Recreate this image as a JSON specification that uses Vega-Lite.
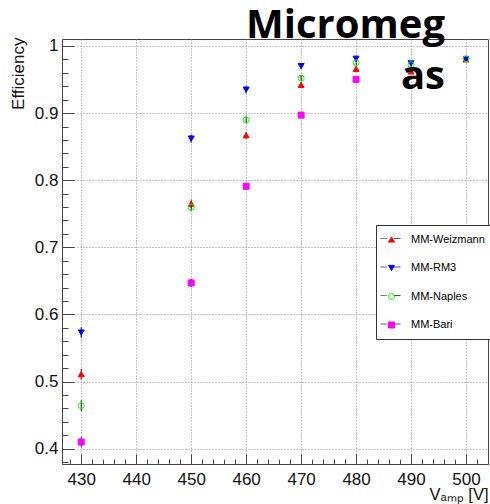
{
  "$schema": "https://vega.github.io/schema/vega-lite/v6.json",
  "width": 426,
  "height": 425,
  "autosize": "none",
  "padding": {"left": 62, "top": 39, "right": 2, "bottom": 40},
  "background": "white",
  "title": {
    "text": ["Micromeg", "as"],
    "anchor": "end",
    "orient": "top",
    "frame": "group",
    "font": "Open Sans",
    "fontSize": 40,
    "fontWeight": "bold",
    "color": "black",
    "lineHeight": 51,
    "baseline": "top",
    "offset": -60,
    "dx": -43
  },
  "config": {
    "view": {"stroke": "#444", "strokeWidth": 1},
    "axis": {
      "labelFont": "Liberation Sans",
      "titleFont": "Liberation Sans",
      "labelColor": "#111",
      "titleColor": "#111",
      "domainColor": "#444",
      "tickColor": "#444",
      "titleFontWeight": "normal"
    }
  },
  "datasets": {
    "pts": [
      {"v": 430, "eff": 0.511, "lo": 0.503, "hi": 0.519, "det": "MM-Weizmann"},
      {"v": 450, "eff": 0.765, "lo": 0.759, "hi": 0.771, "det": "MM-Weizmann"},
      {"v": 460, "eff": 0.867, "lo": 0.862, "hi": 0.872, "det": "MM-Weizmann"},
      {"v": 470, "eff": 0.942, "lo": 0.938, "hi": 0.946, "det": "MM-Weizmann"},
      {"v": 480, "eff": 0.966, "lo": 0.963, "hi": 0.969, "det": "MM-Weizmann"},
      {"v": 490, "eff": 0.962, "lo": 0.959, "hi": 0.965, "det": "MM-Weizmann"},
      {"v": 500, "eff": 0.980, "lo": 0.977, "hi": 0.983, "det": "MM-Weizmann"},
      {"v": 430, "eff": 0.573, "lo": 0.565, "hi": 0.581, "det": "MM-RM3"},
      {"v": 450, "eff": 0.862, "lo": 0.856, "hi": 0.868, "det": "MM-RM3"},
      {"v": 460, "eff": 0.935, "lo": 0.930, "hi": 0.940, "det": "MM-RM3"},
      {"v": 470, "eff": 0.970, "lo": 0.966, "hi": 0.974, "det": "MM-RM3"},
      {"v": 480, "eff": 0.981, "lo": 0.978, "hi": 0.984, "det": "MM-RM3"},
      {"v": 490, "eff": 0.974, "lo": 0.971, "hi": 0.977, "det": "MM-RM3"},
      {"v": 500, "eff": 0.980, "lo": 0.977, "hi": 0.983, "det": "MM-RM3"},
      {"v": 430, "eff": 0.464, "lo": 0.456, "hi": 0.472, "det": "MM-Naples"},
      {"v": 450, "eff": 0.760, "lo": 0.754, "hi": 0.766, "det": "MM-Naples"},
      {"v": 460, "eff": 0.890, "lo": 0.885, "hi": 0.895, "det": "MM-Naples"},
      {"v": 470, "eff": 0.952, "lo": 0.948, "hi": 0.956, "det": "MM-Naples"},
      {"v": 480, "eff": 0.975, "lo": 0.972, "hi": 0.978, "det": "MM-Naples"},
      {"v": 490, "eff": 0.972, "lo": 0.969, "hi": 0.975, "det": "MM-Naples"},
      {"v": 500, "eff": 0.981, "lo": 0.978, "hi": 0.984, "det": "MM-Naples"},
      {"v": 430, "eff": 0.410, "lo": 0.402, "hi": 0.418, "det": "MM-Bari"},
      {"v": 450, "eff": 0.647, "lo": 0.641, "hi": 0.653, "det": "MM-Bari"},
      {"v": 460, "eff": 0.791, "lo": 0.786, "hi": 0.796, "det": "MM-Bari"},
      {"v": 470, "eff": 0.897, "lo": 0.893, "hi": 0.901, "det": "MM-Bari"},
      {"v": 480, "eff": 0.950, "lo": 0.947, "hi": 0.953, "det": "MM-Bari"}
    ]
  },
  "layer": [
    {
      "data": {"name": "pts"},
      "transform": [{"filter": "datum.hi > datum.lo"}],
      "mark": {"type": "rule", "color": "black", "strokeWidth": 1},
      "encoding": {
        "x": {
          "field": "v", "type": "quantitative",
          "scale": {"domain": [426.5, 504], "nice": false, "zero": false},
          "axis": {
            "orient": "bottom",
            "values": [428, 432, 434, 436, 438, 442, 444, 446, 448, 452, 454, 456, 458, 462, 464, 466, 468, 472, 474, 476, 478, 482, 484, 486, 488, 492, 494, 496, 498, 502],
            "tickSize": -5, "labels": false, "grid": false, "domain": false, "title": null
          }
        },
        "y": {
          "field": "lo", "type": "quantitative",
          "scale": {"domain": [0.3772, 1.0104], "nice": false, "zero": false},
          "axis": {
            "orient": "left",
            "values": [0.38, 0.42, 0.44, 0.46, 0.48, 0.52, 0.54, 0.56, 0.58, 0.62, 0.64, 0.66, 0.68, 0.72, 0.74, 0.76, 0.78, 0.82, 0.84, 0.86, 0.88, 0.92, 0.94, 0.96, 0.98],
            "tickSize": -6, "labels": false, "grid": false, "domain": false, "title": null
          }
        },
        "y2": {"field": "hi"},
        "strokeDash": {
          "field": "det", "type": "nominal",
          "sort": ["MM-Weizmann", "MM-RM3", "MM-Naples", "MM-Bari"],
          "scale": {"range": [[1, 0], [1, 0], [1, 0], [1, 0]]},
          "legend": {
            "orient": "none", "legendX": 309, "legendY": 180, "title": null,
            "padding": 9, "rowPadding": 12.5,
            "labelFontSize": 11, "labelFont": "Liberation Sans", "labelExpr": "''",
            "labelOffset": 4, "symbolOffset": 0,
            "symbolType": "M-1,0H-0.35M0.35,0H1", "symbolSize": 400,
            "symbolStrokeColor": "#555", "symbolStrokeWidth": 1, "symbolDash": [1, 0],
            "zindex": 2
          }
        }
      }
    },
    {
      "data": {"name": "pts"},
      "mark": {"type": "point", "filled": true, "strokeWidth": 1, "size": 36, "opacity": 1},
      "encoding": {
        "x": {
          "field": "v", "type": "quantitative",
          "scale": {"domain": [426.5, 504], "nice": false, "zero": false},
          "axis": {
            "orient": "bottom",
            "values": [430, 440, 450, 460, 470, 480, 490, 500],
            "format": "d", "tickSize": -10, "labelFontSize": 17, "labelPadding": 17,
            "grid": true, "gridDash": [1, 2], "gridColor": "#888",
            "title": "Vₐₘₚ [V]", "titleAnchor": "end", "titleFontSize": 16.5, "titlePadding": -1
          }
        },
        "y": {
          "field": "eff", "type": "quantitative",
          "scale": {"domain": [0.3772, 1.0104], "nice": false, "zero": false},
          "axis": {
            "orient": "left",
            "values": [0.4, 0.5, 0.6, 0.7, 0.8, 0.9, 1],
            "format": "~g", "tickSize": -12, "labelFontSize": 17, "labelPadding": 16,
            "grid": true, "gridDash": [1, 2], "gridColor": "#888",
            "title": "Efficiency", "titleAnchor": "end", "titleFontSize": 17, "titlePadding": 7, "titleY": -2
          }
        },
        "fill": {
          "field": "det", "type": "nominal",
          "scale": {"domain": ["MM-Weizmann", "MM-RM3", "MM-Naples", "MM-Bari"], "range": ["#ff0000", "#0000ff", "transparent", "#ff00ff"]},
          "legend": {
            "orient": "none", "legendX": 314, "legendY": 186, "title": null,
            "padding": 9, "rowPadding": 16.5,
            "labelFontSize": 11, "labelFont": "Liberation Sans", "labelColor": "black",
            "labelOffset": 14, "symbolOffset": 1,
            "strokeColor": "#333", "fillColor": "white",
            "symbolSize": 36, "symbolStrokeWidth": 1, "zindex": 1
          }
        },
        "stroke": {
          "field": "det", "type": "nominal",
          "scale": {"domain": ["MM-Weizmann", "MM-RM3", "MM-Naples", "MM-Bari"], "range": ["#ff0000", "#0000ff", "#00ff00", "#ff00ff"]}
        },
        "shape": {
          "field": "det", "type": "nominal",
          "scale": {"domain": ["MM-Weizmann", "MM-RM3", "MM-Naples", "MM-Bari"], "range": ["triangle-up", "triangle-down", "circle", "square"]}
        }
      }
    }
  ],
  "resolve": {"axis": {"x": "independent", "y": "independent"}}
}
